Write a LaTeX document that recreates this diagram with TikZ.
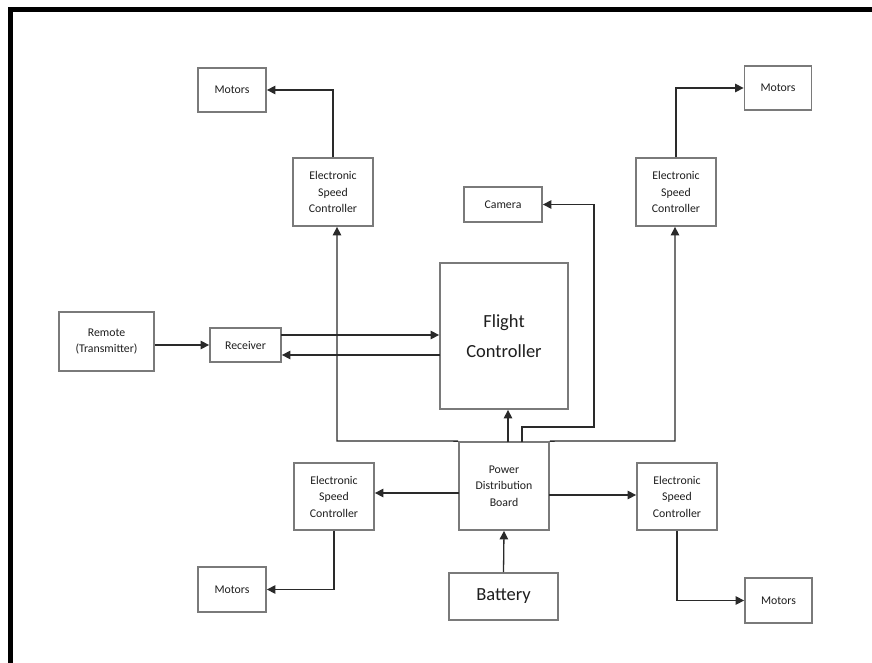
\documentclass[tikz,border=0pt]{standalone}
\usepackage{fontspec}
\setmainfont{Carlito}
\usetikzlibrary{arrows.meta}
\definecolor{boxgray}{HTML}{7A7A7A}
\definecolor{linedark}{HTML}{2A2A2A}
\definecolor{txt}{HTML}{1E1E1E}
\begin{document}
\begin{tikzpicture}[x=1pt,y=-1pt,
  blk/.style={draw=boxgray,line width=1.8pt,inner sep=0pt,align=center,text=txt,
    font=\fontsize{11.8}{16.5}\selectfont},
  bigblk/.style={blk,font=\fontsize{18.5}{30}\selectfont},
  arr/.style={draw=linedark,line width=1.3pt,-{Triangle[length=8.5pt,width=8.5pt]}},
  ln/.style={draw=linedark,line width=1.3pt}]
\useasboundingbox (0,0) rectangle (872,663);
\fill[white] (0,0) rectangle (872,663);
\draw[line width=5pt,line join=miter] (10,670) -- (10,10) -- (880,10);

% nodes
\node[blk,minimum width=68pt,minimum height=44pt] (mtl) at (232,90) {Motors};
\node[blk,minimum width=80pt,minimum height=68pt] (esctl) at (333,192) {Electronic\\Speed\\Controller};
\node[blk,minimum width=67pt,minimum height=44pt] (mtr) at (778,88) {Motors};
\node[blk,minimum width=80pt,minimum height=68pt] (esctr) at (676,192) {Electronic\\Speed\\Controller};
\node[blk,minimum width=78pt,minimum height=35pt] (cam) at (503,204.5) {Camera};
\node[bigblk,minimum width=128pt,minimum height=146pt] (fc) at (504,336) {Flight\\Controller};
\node[blk,minimum width=95pt,minimum height=59pt] (rem) at (106.5,341.5) {Remote\\(Transmitter)};
\node[blk,minimum width=71pt,minimum height=34pt] (rcv) at (245.5,345) {Receiver};
\node[blk,minimum width=90pt,minimum height=88pt] (pdb) at (504,486) {Power\\Distribution\\Board};
\node[blk,minimum width=80pt,minimum height=67pt] (escbl) at (334,496.5) {Electronic\\Speed\\Controller};
\node[blk,minimum width=80pt,minimum height=67pt] (escbr) at (677,496.5) {Electronic\\Speed\\Controller};
\node[bigblk,minimum width=109pt,minimum height=47pt] (bat) at (503.5,596.5) {Battery};
\node[blk,minimum width=68pt,minimum height=45pt] (mbl) at (232,589.5) {Motors};
\node[blk,minimum width=67pt,minimum height=45pt] (mbr) at (778.5,600.5) {Motors};

% helper coordinates
\coordinate (tl) at (337,441);
\coordinate (tr) at (675,441);
\coordinate (fcin) at (508,442);
\coordinate (camA) at (522,442);
\coordinate (camB) at (594,427);
\coordinate (pl) at (459,493);
\coordinate (pr) at (549,495);
\coordinate (r1) at (281,335);
\coordinate (r2) at (440,355);

% connectors
\draw[arr] (esctl.north) |- (mtl.east);
\draw[arr] (esctr.north) |- (mtr.west);
\draw[arr] (pdb.north west) -- (tl) -- (tl |- esctl.south);
\draw[arr] (pdb.north east) -- (tr) -- (tr |- esctr.south);
\draw[arr] (fcin) -- (fcin |- fc.south);
\draw[arr] (camA) |- (camB) |- (cam.east);
\draw[arr] (pl) -- (pl -| escbl.east);
\draw[arr] (pr) -- (pr -| escbr.west);
\draw[arr] (bat.north) -- (pdb.south);
\draw[arr] (escbl.south) |- (mbl.east);
\draw[arr] (escbr.south) |- (mbr.west);
\draw[arr] (rem.east |- rcv.west) -- (rcv.west);
\draw[arr] (r1) -- (r1 -| fc.west);
\draw[arr] (r2) -- (r2 -| rcv.east);
\end{tikzpicture}
\end{document}
